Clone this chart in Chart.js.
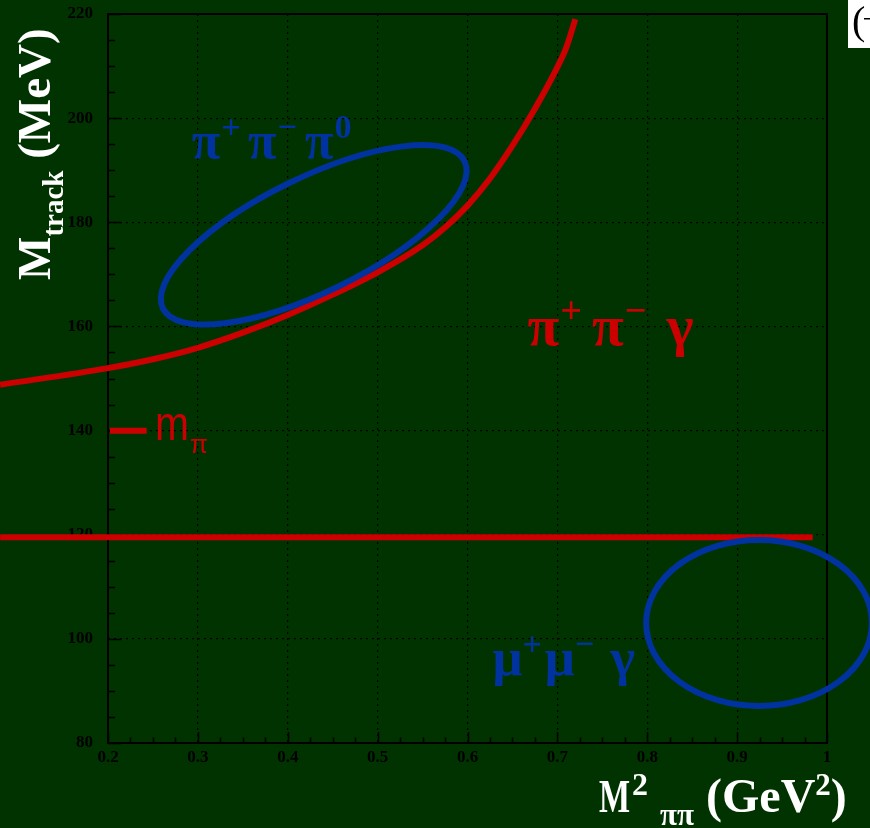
<!DOCTYPE html>
<html><head><meta charset="utf-8">
<script src="https://cdn.jsdelivr.net/npm/chart.js@4"></script>
<style>html,body{margin:0;padding:0;background:#003300;overflow:hidden}#wrap{width:870px;height:828px;position:relative}</style>
</head><body><div id="wrap"><canvas id="c" width="870" height="828"></canvas></div>
<script>
// ---- data ----
const xTickValues = [0.2, 0.3, 0.4, 0.5, 0.6, 0.7, 0.8, 0.9, 1.0];
const xTickLabels = ['0.2', '0.3', '0.4', '0.5', '0.6', '0.7', '0.8', '0.9', '1'];
const yTickValues = [80, 100, 120, 140, 160, 180, 200, 220];
const yTickLabels = ['80', '100', '120', '140', '160', '180', '200', '220'];

// selection cut curve (M_track vs M2_pipi)
const cutCurveX = [0.08, 0.2, 0.25, 0.3, 0.35, 0.4, 0.45, 0.5, 0.55, 0.575, 0.6, 0.625, 0.65, 0.675, 0.7, 0.71, 0.72];
const cutCurveY = [148.8, 152.0, 153.7, 155.9, 158.8, 162.2, 166.1, 170.4, 175.6, 179.0, 183.2, 188.4, 194.7, 201.8, 209.8, 213.6, 219.0];

// lower horizontal cut
const lowCutX = [0.08, 0.984];
const lowCutY = [119.5, 119.5];

// pion mass marker
const mPiX = [0.2022, 0.243];
const mPiY = [139.95, 139.95];

// ---- annotation geometry ----
const ellipse3pi = {cx: 0.4289, cy: 177.6, rx: 0.1867, ry: 11.0, angleDeg: -26};
const ellipseMu  = {cx: 0.9244, cy: 103.05, rx: 0.1256, ry: 15.94, angleDeg: 0};

const RED = '#cc0000';
const BLUE = '#0033a0';
const BG = '#003300';
const SERIF = '"Liberation Serif", "Times New Roman", serif';
const SANS = '"Liberation Sans", Arial, sans-serif';

function pts(xs, ys) { return xs.map((x, i) => ({x: x, y: ys[i]})); }

function drawRich(ctx, x, y, segs) {
  let cx = x;
  for (const s of segs) {
    ctx.font = s.font;
    const sx = s.sx || 1;
    ctx.save();
    ctx.translate(cx, y + (s.dy || 0));
    ctx.scale(sx, 1);
    ctx.fillText(s.t, 0, 0);
    ctx.restore();
    cx += ctx.measureText(s.t).width * sx + (s.kern || 0);
  }
  return cx - x;
}

const bgPlugin = {
  id: 'bg',
  beforeDraw(chart) {
    const ctx = chart.ctx;
    ctx.save();
    ctx.fillStyle = BG;
    ctx.fillRect(0, 0, chart.width, chart.height);
    ctx.restore();
  }
};

const framePlugin = {
  id: 'frame',
  beforeDatasetsDraw(chart) {
    const {ctx, chartArea: a, scales: {x, y}} = chart;
    ctx.save();
    ctx.strokeStyle = '#000';
    ctx.lineWidth = 2;
    ctx.strokeRect(a.left, a.top, a.right - a.left, a.bottom - a.top);
    ctx.lineWidth = 1.5;
    ctx.beginPath();
    for (let i = 0; i <= 32; i++) {
      const v = 0.2 + i * 0.025;
      const px = Math.round(x.getPixelForValue(v)) + 0.5;
      const len = (i % 4 === 0) ? 11 : 5.5;
      ctx.moveTo(px, a.bottom); ctx.lineTo(px, a.bottom - len);
    }
    for (let i = 0; i <= 28; i++) {
      const v = 80 + i * 5;
      const py = Math.round(y.getPixelForValue(v)) + 0.5;
      const len = (i % 4 === 0) ? 13 : 7;
      ctx.moveTo(a.left, py); ctx.lineTo(a.left + len, py);
    }
    ctx.stroke();
    ctx.restore();
  }
};

const annoPlugin = {
  id: 'anno',
  afterDatasetsDraw(chart) {
    const {ctx, scales: {x, y}} = chart;
    ctx.save();
    for (const e of [ellipse3pi, ellipseMu]) {
      const px = x.getPixelForValue(e.cx), py = y.getPixelForValue(e.cy);
      const rxp = x.getPixelForValue(e.cx + e.rx) - px;
      const ryp = py - y.getPixelForValue(e.cy + e.ry);
      ctx.beginPath();
      ctx.ellipse(px, py, rxp, ryp, e.angleDeg * Math.PI / 180, 0, Math.PI * 2);
      ctx.strokeStyle = BLUE;
      ctx.lineWidth = 6;
      ctx.stroke();
    }
    ctx.textBaseline = 'alphabetic';
    ctx.textAlign = 'left';
    const G = (f) => `bold ${f}px ${SERIF}`;
    // pi+ pi- pi0
    ctx.fillStyle = BLUE;
    const F1 = 52;
    drawRich(ctx, x.getPixelForValue(0.2933), y.getPixelForValue(192.35), [
      {t: 'π', font: G(F1), kern: 1},
      {t: '+', font: G(F1 * 0.66), dy: -F1 * 0.38, kern: 7},
      {t: 'π', font: G(F1), kern: 1},
      {t: '−', font: G(F1 * 0.66), dy: -F1 * 0.38, kern: 8},
      {t: 'π', font: G(F1), kern: 1},
      {t: '0', font: G(F1 * 0.66), dy: -F1 * 0.38}
    ]);
    // pi+ pi- gamma
    ctx.fillStyle = RED;
    const F2 = 58;
    drawRich(ctx, x.getPixelForValue(0.6667), y.getPixelForValue(156.4), [
      {t: 'π', font: G(F2), kern: 1},
      {t: '+', font: G(F2 * 0.66), dy: -F2 * 0.38, kern: 10},
      {t: 'π', font: G(F2), kern: 1},
      {t: '−', font: G(F2 * 0.66), dy: -F2 * 0.38, kern: 20},
      {t: 'γ', font: G(F2)}
    ]);
    // mu+ mu- gamma
    ctx.fillStyle = BLUE;
    const F3 = 53;
    drawRich(ctx, x.getPixelForValue(0.6278), y.getPixelForValue(93.06), [
      {t: 'μ', font: G(F3), kern: 0},
      {t: '+', font: G(F3 * 0.64), dy: -F3 * 0.38, kern: 3},
      {t: 'μ', font: G(F3), kern: 0},
      {t: '−', font: G(F3 * 0.64), dy: -F3 * 0.38, kern: 16},
      {t: 'γ', font: G(F3)}
    ]);
    // m_pi
    ctx.fillStyle = RED;
    drawRich(ctx, x.getPixelForValue(0.2522), y.getPixelForValue(138.2), [
      {t: 'm', font: `48px ${SANS}`, sx: 0.85, kern: 1},
      {t: 'π', font: `26px ${SANS}`, dy: 13}
    ]);
    ctx.restore();
  },
  afterDraw(chart) {
    const ctx = chart.ctx;
    ctx.save();
    ctx.fillStyle = '#fff';
    ctx.textBaseline = 'alphabetic';
    // y axis title
    ctx.save();
    ctx.translate(50, 280);
    ctx.rotate(-Math.PI / 2);
    drawRich(ctx, 0, 0, [
      {t: 'M', font: `bold 46px ${SERIF}`},
      {t: 'track', font: `bold 29px ${SERIF}`, dy: 13},
      {t: ' (MeV)', font: `bold 47px ${SERIF}`}
    ]);
    ctx.restore();
    // x axis title
    drawRich(ctx, 599, 812, [
      {t: 'M', font: `bold 47px ${SERIF}`, sx: 0.7, kern: 2},
      {t: '2', font: `bold 32px ${SERIF}`, dy: -17, kern: 12},
      {t: 'ππ', font: `bold 31px ${SERIF}`, dy: 13},
      {t: ' (GeV', font: `bold 48px ${SERIF}`},
      {t: '2', font: `bold 31px ${SERIF}`, dy: -17},
      {t: ')', font: `bold 48px ${SERIF}`}
    ]);
    // cropped white inset at top right
    ctx.fillStyle = '#fff';
    ctx.fillRect(848, 0, 22, 48);
    ctx.fillStyle = '#000';
    ctx.font = `40px ${SERIF}`;
    ctx.fillText('(', 852, 34);
    ctx.fillRect(864, 18, 6, 1.5);
    ctx.restore();
  }
};

const tickFont = {family: SERIF, weight: 'bold', size: 17};

new Chart(document.getElementById('c'), {
  type: 'scatter',
  data: {
    datasets: [
      {data: pts(cutCurveX, cutCurveY), showLine: true, borderColor: RED, borderWidth: 6, pointRadius: 0,
       cubicInterpolationMode: 'monotone', clip: false, fill: false},
      {data: pts(lowCutX, lowCutY), showLine: true, borderColor: RED, borderWidth: 6, pointRadius: 0, clip: false, fill: false},
      {data: pts(mPiX, mPiY), showLine: true, borderColor: RED, borderWidth: 6, pointRadius: 0, clip: false, fill: false}
    ]
  },
  options: {
    responsive: false,
    animation: false,
    devicePixelRatio: 1,
    layout: {padding: {top: 14, right: 43, left: 0, bottom: 0}},
    plugins: {legend: {display: false}, tooltip: {enabled: false}},
    scales: {
      x: {
        type: 'linear', min: 0.2, max: 1.0, position: 'bottom',
        afterFit(s) { s.height = 85; s.paddingLeft = 0; s.paddingRight = 0; },
        afterBuildTicks(s) { s.ticks = xTickValues.map(v => ({value: v})); },
        ticks: {
          font: tickFont, color: '#000', padding: 4, maxRotation: 0, autoSkip: false,
          callback(v) { const i = xTickValues.findIndex(t => Math.abs(t - v) < 1e-9); return i >= 0 ? xTickLabels[i] : ''; }
        },
        grid: {color: '#000', lineWidth: 1.2, drawTicks: false},
        border: {display: false, dash: [2, 4]}
      },
      y: {
        type: 'linear', min: 80, max: 220,
        afterFit(s) { s.width = 108; s.paddingTop = 0; s.paddingBottom = 0; },
        afterBuildTicks(s) { s.ticks = yTickValues.map(v => ({value: v})); },
        ticks: {
          font: tickFont, color: '#000', padding: 15, autoSkip: false,
          callback(v) { const i = yTickValues.indexOf(v); return i >= 0 ? yTickLabels[i] : ''; }
        },
        grid: {color: '#000', lineWidth: 1.2, drawTicks: false},
        border: {display: false, dash: [2, 4]}
      }
    }
  },
  plugins: [bgPlugin, framePlugin, annoPlugin]
});
</script>
</body></html>
